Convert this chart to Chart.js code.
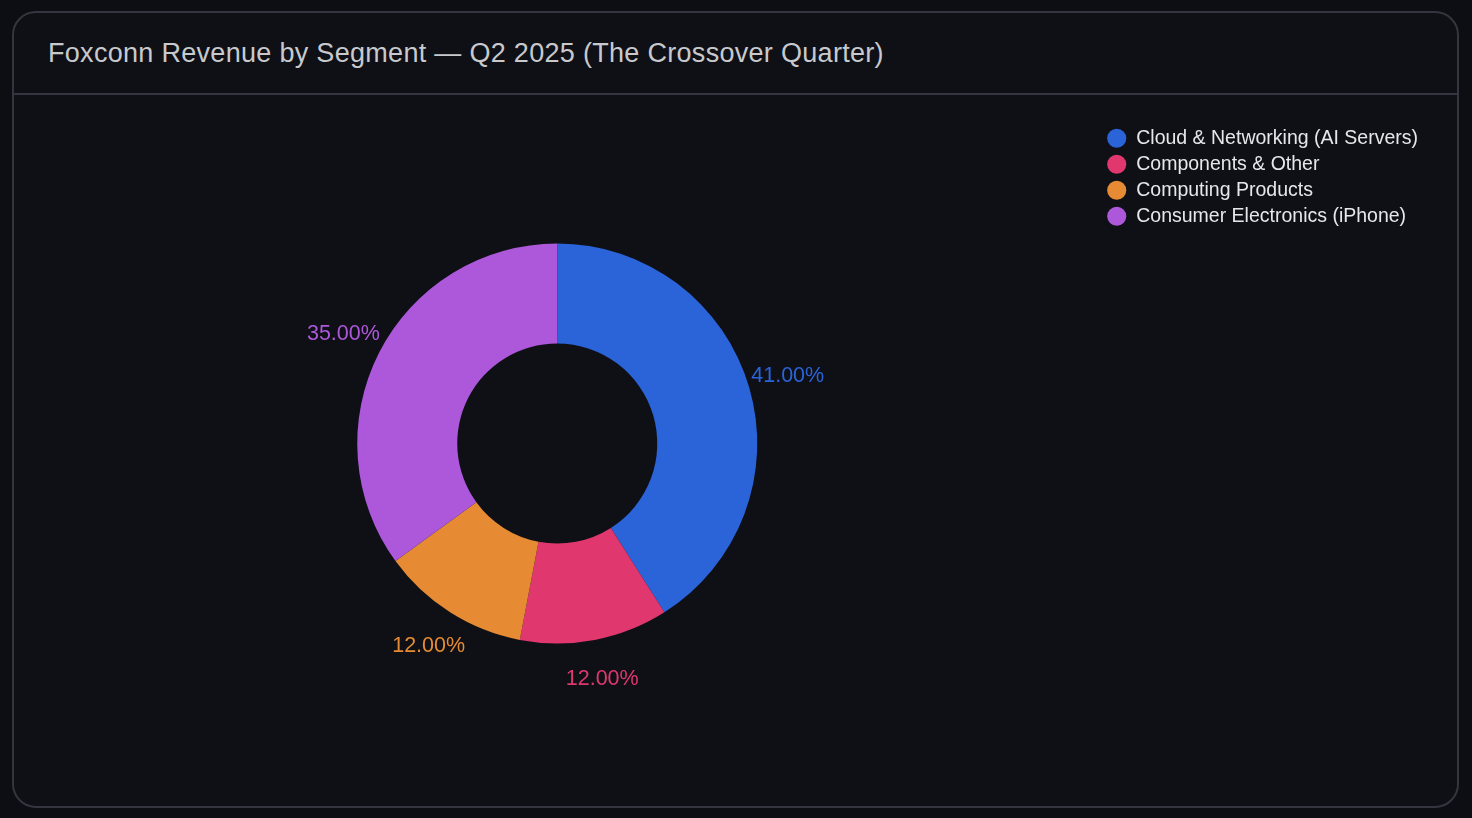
<!DOCTYPE html>
<html>
<head>
<meta charset="utf-8">
<script src="https://cdn.jsdelivr.net/npm/chart.js@4/dist/chart.umd.min.js"></script>
<style>
  html, body { margin: 0; padding: 0; background: #0c0e13; width: 1472px; height: 818px; overflow: hidden; }
  .card {
    position: absolute; left: 12px; top: 11px; width: 1443px; height: 793px;
    background: #0e1016; border: 2px solid #33363e; border-radius: 24px; overflow: hidden;
  }
  .card h1 {
    margin: 0; padding-left: 34px; box-sizing: border-box; height: 82px;
    font: 400 27px "Liberation Sans", Arial, sans-serif; line-height: 80px; letter-spacing: 0.3px;
    color: #c8c9cd; border-bottom: 2px solid #33363e;
  }
  .wrap { position: absolute; left: 0; top: 82px; width: 1443px; height: 711px; }
</style>
</head>
<body>
<div class="card">
  <h1>Foxconn Revenue by Segment — Q2 2025 (The Crossover Quarter)</h1>
  <div class="wrap"><canvas id="chart"></canvas></div>
</div>
<script>
'use strict';

// segment shares, Q2 2025 (%)
var segments = ['Cloud & Networking (AI Servers)', 'Components & Other', 'Computing Products', 'Consumer Electronics (iPhone)'];
var shares = [41, 12, 12, 35];
var colors = ['#2b63d9', '#e0376e', '#e68b34', '#ad58db'];

// percentage labels outside each slice
var outsideLabels = {
    id: 'outsideLabels',
    afterDatasetsDraw: function(chart) {
        var ctx = chart.ctx;
        var meta = chart.getDatasetMeta(0);
        var total = shares.reduce((a, b) => a + b, 0);
        ctx.save();
        ctx.font = '21.5px "Liberation Sans", Arial, sans-serif';
        ctx.textAlign = 'center';
        ctx.textBaseline = 'middle';
        meta.data.forEach((arc, i) => {
            var mid = (arc.startAngle + arc.endAngle) / 2;
            var r = arc.outerRadius + 40;
            ctx.fillStyle = colors[i];
            ctx.fillText((shares[i] / total * 100).toFixed(2) + '%', arc.x + Math.cos(mid) * r, arc.y + Math.sin(mid) * r);
        });
        ctx.restore();
    }
};

new Chart(document.getElementById('chart'), {
    type: 'doughnut',
    data: {
        labels: segments,
        datasets: [{
            data: shares,
            backgroundColor: colors,
            borderWidth: 0,
            radius: 200,
            cutout: '50%'
        }]
    },
    options: {
        responsive: true,
        maintainAspectRatio: false,
        animation: false,
        layout: { padding: { top: 27, bottom: 41, left: 0, right: 29 } },
        plugins: {
            legend: {
                position: 'right',
                align: 'start',
                labels: {
                    color: '#e6e7ea',
                    usePointStyle: true,
                    pointStyle: 'circle',
                    boxWidth: 20,
                    boxHeight: 13.5,
                    padding: 6.5,
                    font: { size: 19.5, family: '"Liberation Sans", Arial, sans-serif' }
                }
            },
            tooltip: { enabled: false }
        }
    },
    plugins: [outsideLabels]
});
</script>
</body>
</html>
